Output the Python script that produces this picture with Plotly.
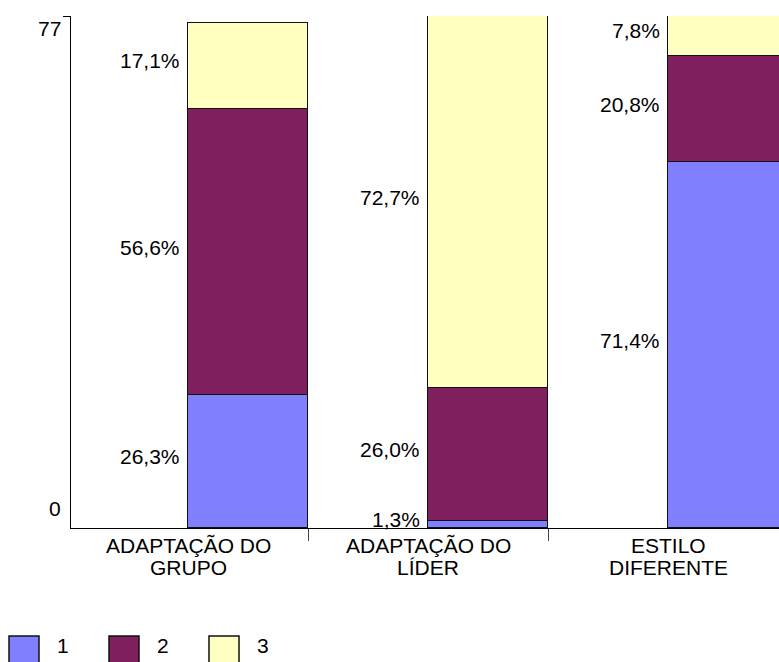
import plotly.graph_objects as go

# Categories (x axis) and counts per answer option
categories = ["ADAPTAÇÃO DO<br>GRUPO", "ADAPTAÇÃO DO<br>LÍDER", "ESTILO<br>DIFERENTE"]
series_names = ["1", "2", "3"]
values_1 = [20, 1, 55]
values_2 = [43, 20, 16]
values_3 = [13, 56, 6]
colors = ["#8080FF", "#7F1F5E", "#FFFFC2"]

y_tick_vals = [0, 77]
y_tick_text = ["0", "77"]

FONT = "Liberation Sans, Arial, Helvetica, sans-serif"
series = [values_1, values_2, values_3]
x_pos = list(range(len(categories)))
totals = [sum(s[i] for s in series) for i in x_pos]

fig = go.Figure()
for name, vals, col in zip(series_names, series, colors):
    fig.add_trace(go.Bar(
        x=x_pos, y=vals, name=name,
        offset=0, width=0.5,
        marker=dict(color=col, line=dict(color="#111111", width=1)),
        showlegend=False,
    ))

annotations = []
# percentage labels to the left of each stacked segment
for i in x_pos:
    base = 0
    for vals in series:
        v = vals[i]
        pct = f"{v / totals[i] * 100:.1f}%".replace(".", ",")
        annotations.append(dict(
            x=i, y=base + v / 2, xref="x", yref="y", text=pct,
            showarrow=False, xanchor="right", yanchor="middle",
            xshift=-6, yshift=5,
            font=dict(family=FONT, size=21, color="#000000"),
        ))
        base += v

# category names under the axis, two tight lines each
for i, cat in zip(x_pos, categories):
    for j, line in enumerate(cat.split("<br>")):
        annotations.append(dict(
            x=i, y=0, xref="x", yref="paper", text=line, showarrow=False,
            xanchor="center", yanchor="middle", yshift=-17 - 22 * j,
            font=dict(family=FONT, size=21, color="#000000"),
        ))

# y-axis labels offset from their ticks
for val, txt, shift in zip(y_tick_vals, y_tick_text, [20, -12]):
    annotations.append(dict(
        x=0, y=val, xref="paper", yref="y", text=txt, showarrow=False,
        xanchor="right", yanchor="middle", xshift=-8, yshift=shift,
        font=dict(family=FONT, size=21, color="#000000"),
    ))

# legend: large swatches with labels along the bottom
shapes = []
for k, (name, col) in enumerate(zip(series_names, colors)):
    left = -62 + 100 * k
    shapes.append(dict(
        type="rect", xref="paper", yref="paper",
        xsizemode="pixel", ysizemode="pixel", xanchor=0, yanchor=0,
        x0=left, x1=left + 30, y0=-108, y1=-138,
        fillcolor=col, line=dict(color="#111111", width=1.5),
    ))
    annotations.append(dict(
        x=0, y=0, xref="paper", yref="paper", text=name, showarrow=False,
        xanchor="center", yanchor="middle", xshift=-8 + 100 * k, yshift=-117,
        font=dict(family=FONT, size=21, color="#000000"),
    ))

fig.update_layout(
    width=779, height=662,
    margin=dict(l=71, r=0, t=16, b=134),
    paper_bgcolor="white", plot_bgcolor="white",
    barmode="stack", bargap=0,
    annotations=annotations, shapes=shapes,
    font=dict(family=FONT, size=21, color="#000000"),
    xaxis=dict(
        range=[-0.4875, 2.4625], tickmode="array", tickvals=x_pos,
        ticks="", showticklabels=False, showgrid=False, zeroline=False,
        showline=True, linecolor="#000000", linewidth=1,
        minor=dict(tickvals=[0.5, 1.5], ticks="outside", ticklen=12,
                   tickcolor="#444444", tickwidth=1, showgrid=False),
    ),
    yaxis=dict(
        range=[0, 77], tickmode="array", tickvals=[77], ticks="outside",
        ticklen=7, tickcolor="#000000", showticklabels=False,
        showgrid=False, zeroline=False,
        showline=True, linecolor="#000000", linewidth=1,
    ),
)

fig.write_html("out.html")
